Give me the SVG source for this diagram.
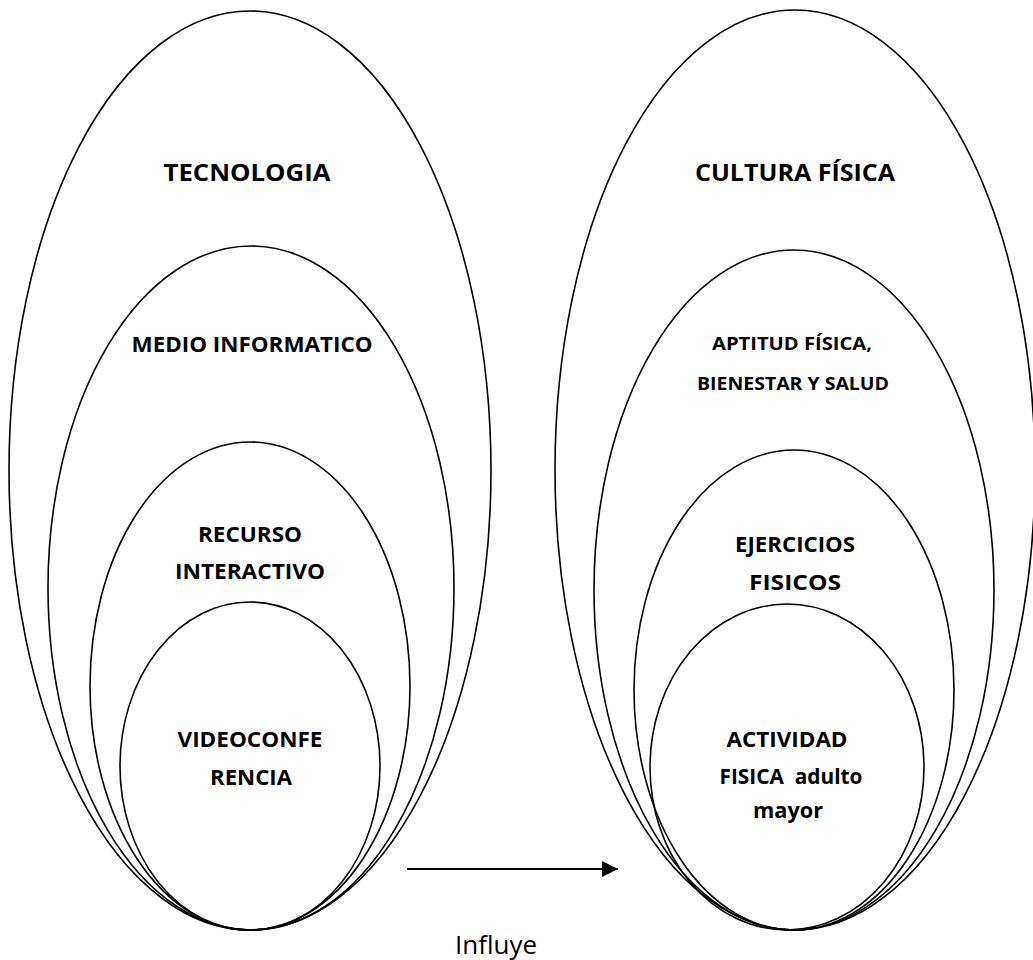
<svg xmlns="http://www.w3.org/2000/svg" width="1033" height="960" viewBox="0 0 1033 960">
<style>
.e{fill:none;stroke:#000;stroke-width:1.6}
.t{font-family:"Open Sans","Liberation Sans",Arial,sans-serif;font-weight:bold;fill:#000;text-anchor:middle}
.h{font-size:23px}
.m{font-size:22px}
.s{font-size:18px}
.r{font-family:"Open Sans","Liberation Sans",Arial,sans-serif;font-size:26px;fill:#000;text-anchor:middle}
</style>
<defs>
<marker id="ah2" viewBox="0 0 16 16" refX="16" refY="8" markerWidth="16" markerHeight="16" markerUnits="userSpaceOnUse" orient="auto">
<path d="M0,0 L16,8 L0,16 Z" fill="#000"/>
</marker>
</defs>
<rect width="1033" height="960" fill="#fff"/>
<g id="tecnologia">
<ellipse class="e" cx="250" cy="470.5" rx="241" ry="459.5"/>
<text class="t h" x="247" y="181" textLength="167" lengthAdjust="spacingAndGlyphs">TECNOLOGIA</text>
</g>
<g id="medio-informatico">
<ellipse class="e" cx="251" cy="588" rx="203" ry="342"/>
<text class="t m" x="252" y="352" textLength="241" lengthAdjust="spacingAndGlyphs">MEDIO INFORMATICO</text>
</g>
<g id="recurso-interactivo">
<ellipse class="e" cx="250" cy="686" rx="160" ry="244"/>
<text class="t m" x="250" y="542" textLength="104" lengthAdjust="spacingAndGlyphs">RECURSO</text>
<text class="t m" x="250" y="579" textLength="150" lengthAdjust="spacingAndGlyphs">INTERACTIVO</text>
</g>
<g id="videoconferencia">
<ellipse class="e" cx="250" cy="766" rx="130" ry="164"/>
<text class="t m" x="250" y="747" textLength="145" lengthAdjust="spacingAndGlyphs">VIDEOCONFE</text>
<text class="t m" x="251" y="785" textLength="82" lengthAdjust="spacingAndGlyphs">RENCIA</text>
</g>
<g id="cultura-fisica">
<ellipse class="e" cx="795" cy="470" rx="240" ry="460"/>
<text class="t h" x="795" y="181" textLength="200" lengthAdjust="spacingAndGlyphs">CULTURA FÍSICA</text>
</g>
<g id="aptitud-fisica">
<ellipse class="e" cx="794" cy="590" rx="200" ry="340"/>
<text class="t s" x="792" y="350" textLength="160" lengthAdjust="spacingAndGlyphs">APTITUD FÍSICA,</text>
<text class="t s" x="793" y="390" textLength="192" lengthAdjust="spacingAndGlyphs">BIENESTAR Y SALUD</text>
</g>
<g id="ejercicios-fisicos">
<ellipse class="e" cx="794" cy="690" rx="160" ry="240"/>
<text class="t m" x="795" y="552" textLength="120" lengthAdjust="spacingAndGlyphs">EJERCICIOS</text>
<text class="t m" x="795" y="590" textLength="92" lengthAdjust="spacingAndGlyphs">FISICOS</text>
</g>
<g id="actividad-fisica">
<ellipse class="e" cx="787" cy="767" rx="137" ry="163"/>
<text class="t m" x="787" y="747" textLength="121" lengthAdjust="spacingAndGlyphs">ACTIVIDAD</text>
<text class="t m" x="791" y="784" textLength="143" lengthAdjust="spacingAndGlyphs" xml:space="preserve">FISICA  adulto</text>
<text class="t m" x="788" y="818" textLength="70" lengthAdjust="spacingAndGlyphs">mayor</text>
</g>
<g id="connectors">
<line x1="407" y1="869" x2="618" y2="869" stroke="#000" stroke-width="2.2" marker-end="url(#ah2)"/>
<text class="r" x="496" y="954" textLength="82" lengthAdjust="spacingAndGlyphs">Influye</text>
</g>
</svg>
